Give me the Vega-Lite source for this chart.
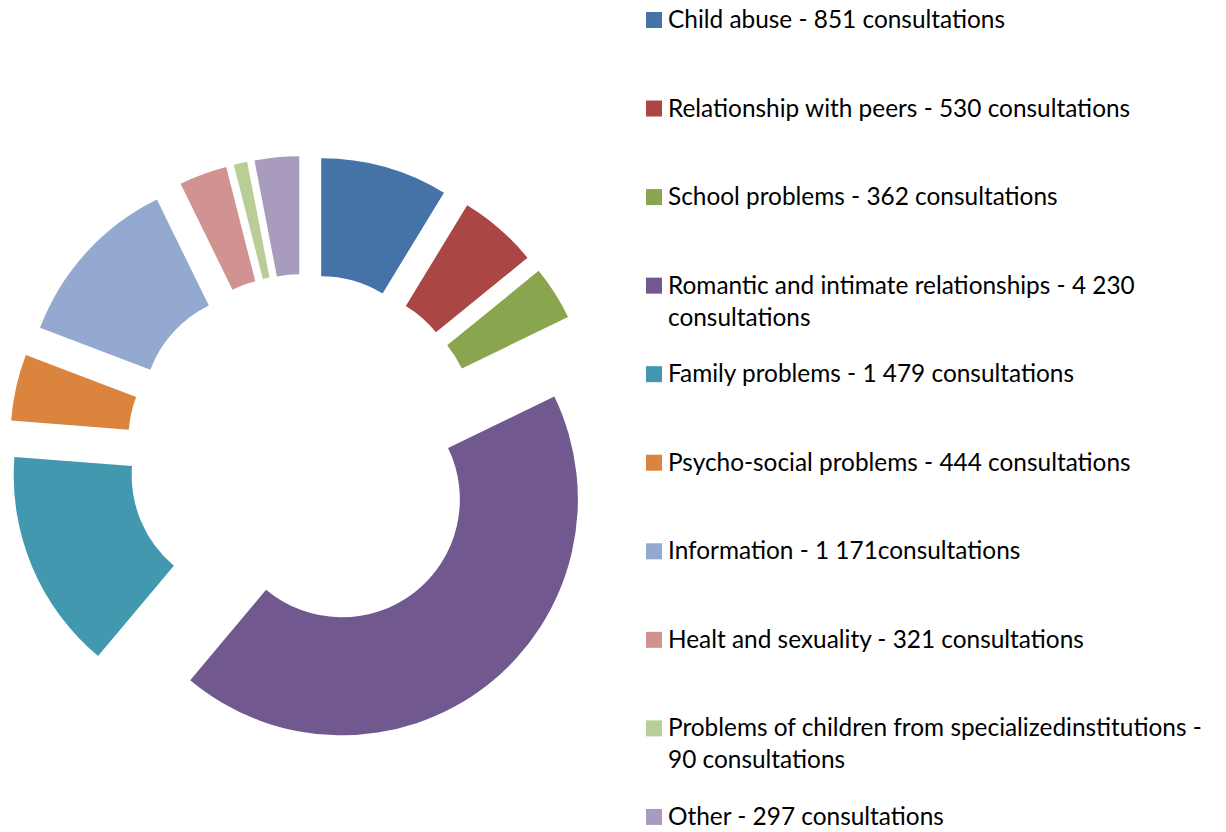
{
  "$schema": "https://vega.github.io/schema/vega-lite/v6.json",
  "padding": 0,
  "spacing": 36,
  "bounds": "flush",
  "background": "white",
  "config": {"view": {"stroke": null}},
  "data": {
    "values": [
      {"idx": 1, "cat": "Child abuse", "value": 851, "label": "Child abuse - 851 consultations"},
      {"idx": 2, "cat": "Relationship with peers", "value": 530, "label": "Relationship with peers - 530 consultations"},
      {"idx": 3, "cat": "School problems", "value": 362, "label": "School problems - 362 consultations"},
      {"idx": 4, "cat": "Romantic and intimate relationships", "value": 4230, "label": "Romantic and intimate relationships - 4 230\nconsultations"},
      {"idx": 5, "cat": "Family problems", "value": 1479, "label": "Family problems - 1 479 consultations"},
      {"idx": 6, "cat": "Psycho-social problems", "value": 444, "label": "Psycho-social problems - 444 consultations"},
      {"idx": 7, "cat": "Information", "value": 1171, "label": "Information - 1 171consultations"},
      {"idx": 8, "cat": "Healt and sexuality", "value": 321, "label": "Healt and sexuality - 321 consultations"},
      {"idx": 9, "cat": "Problems of children from specializedinstitutions", "value": 90, "label": "Problems of children from specializedinstitutions -\n90 consultations"},
      {"idx": 10, "cat": "Other", "value": 297, "label": "Other - 297 consultations"}
    ]
  },
  "hconcat": [
    {
      "name": "pie",
      "width": 610,
      "height": 832,
      "transform": [{"joinaggregate": [{"op": "sum", "field": "value", "as": "total"}]}],
      "mark": {"type": "arc", "radius": 236, "radius2": 118, "strokeWidth": 0},
      "encoding": {
        "theta": {"field": "value", "type": "quantitative", "stack": true},
        "order": {"field": "idx", "type": "quantitative"},
        "color": {
          "field": "cat",
          "type": "nominal",
          "sort": null,
          "scale": {
            "domain": ["Child abuse", "Relationship with peers", "School problems", "Romantic and intimate relationships", "Family problems", "Psycho-social problems", "Information", "Healt and sexuality", "Problems of children from specializedinstitutions", "Other"],
            "range": ["#4572A7", "#AA4643", "#89A54E", "#71588F", "#4198AF", "#DB843D", "#93A9CF", "#D19392", "#B9CD96", "#A99BBD"]
          },
          "legend": null
        },
        "x": {"value": {"expr": "305 + 60*sin(PI*(datum.value_start + datum.value_end)/datum.total)"}},
        "y": {"value": {"expr": "452 - 60*cos(PI*(datum.value_start + datum.value_end)/datum.total)"}}
      }
    },
    {
      "name": "legendview",
      "width": 580,
      "height": 832,
      "encoding": {
        "y": {"field": "idx", "type": "ordinal", "scale": {"type": "point", "padding": 0.198, "align": 0.57}, "axis": null}
      },
      "layer": [
        {
          "mark": {"type": "point", "shape": "square", "filled": true, "size": 256, "opacity": 1, "x": 8},
          "encoding": {
            "color": {"field": "cat", "type": "nominal", "legend": null}
          }
        },
        {
          "mark": {"type": "text", "x": 22, "align": "left", "baseline": "alphabetic", "dy": 8, "font": "Lato", "fontSize": 24.4, "lineHeight": 32, "lineBreak": "\n", "color": "#000000"},
          "encoding": {
            "text": {"field": "label"}
          }
        }
      ]
    }
  ]
}
